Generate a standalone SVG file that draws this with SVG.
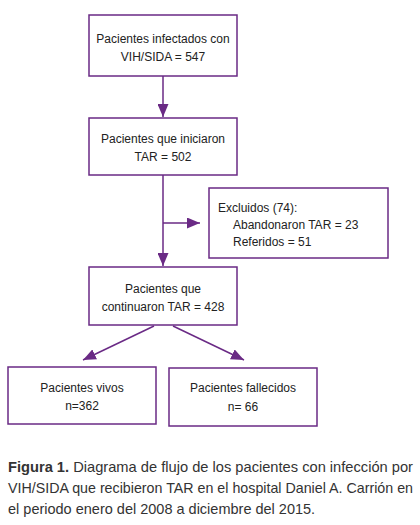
<svg xmlns="http://www.w3.org/2000/svg" width="420" height="525" viewBox="0 0 420 525">
<style>
.box{fill:#fff;stroke:#6a2a85;stroke-width:1.5}
.t{font-family:"Liberation Sans",Arial,sans-serif;font-size:12px;fill:#222}
.c{text-anchor:middle}
.edge{stroke:#6a2a85;stroke-width:1.5;fill:none}
.cap{font-family:"Liberation Sans",Arial,sans-serif;font-size:14.5px;fill:#333}
</style>
<defs>
<marker id="ah" viewBox="0 0 13 11" refX="13" refY="5.5" markerWidth="13" markerHeight="11" markerUnits="userSpaceOnUse" orient="auto">
<path d="M0,0 L13,5.5 L0,11 Z" fill="#6a2a85"/>
</marker>
</defs>
<rect width="420" height="525" fill="#fff"/>
<g id="connectors">
<line class="edge" x1="163" y1="76" x2="163" y2="117" marker-end="url(#ah)"/>
<line class="edge" x1="163" y1="175" x2="163" y2="266" marker-end="url(#ah)"/>
<line class="edge" x1="163" y1="223" x2="200" y2="223" marker-end="url(#ah)"/>
<line class="edge" x1="154" y1="326" x2="83" y2="360" marker-end="url(#ah)"/>
<line class="edge" x1="173" y1="326" x2="244" y2="360" marker-end="url(#ah)"/>
</g>
<g id="n1">
<rect class="box" x="89" y="15" width="148" height="61"/>
<text class="t c" x="163" y="43">Pacientes infectados con</text>
<text class="t c" x="163" y="61">VIH/SIDA = 547</text>
</g>
<g id="n2">
<rect class="box" x="89" y="118" width="148" height="57"/>
<text class="t c" x="163" y="143">Pacientes que iniciaron</text>
<text class="t c" x="163" y="161">TAR = 502</text>
</g>
<g id="n_excl">
<rect class="box" x="209" y="188" width="179" height="70"/>
<text class="t" x="218" y="212">Excluidos (74):</text>
<text class="t" x="233" y="229">Abandonaron TAR = 23</text>
<text class="t" x="233" y="246">Referidos = 51</text>
</g>
<g id="n3">
<rect class="box" x="89" y="267" width="148" height="58"/>
<text class="t c" x="163" y="293">Pacientes que</text>
<text class="t c" x="163" y="311">continuaron TAR = 428</text>
</g>
<g id="n4">
<rect class="box" x="8" y="367" width="148" height="57"/>
<text class="t c" x="82" y="392">Pacientes vivos</text>
<text class="t c" x="82" y="410">n=362</text>
</g>
<g id="n5">
<rect class="box" x="169" y="368" width="148" height="58"/>
<text class="t c" x="243" y="392">Pacientes fallecidos</text>
<text class="t c" x="243" y="411">n= 66</text>
</g>
<g id="caption">
<text class="cap" x="8" y="472" textLength="405" lengthAdjust="spacingAndGlyphs"><tspan font-weight="bold">Figura 1.</tspan> Diagrama de flujo de los pacientes con infección por</text>
<text class="cap" x="8" y="493" textLength="405" lengthAdjust="spacingAndGlyphs">VIH/SIDA que recibieron TAR en el hospital Daniel A. Carrión en</text>
<text class="cap" x="8" y="514">el periodo enero del 2008 a diciembre del 2015.</text>
</g>
</svg>
